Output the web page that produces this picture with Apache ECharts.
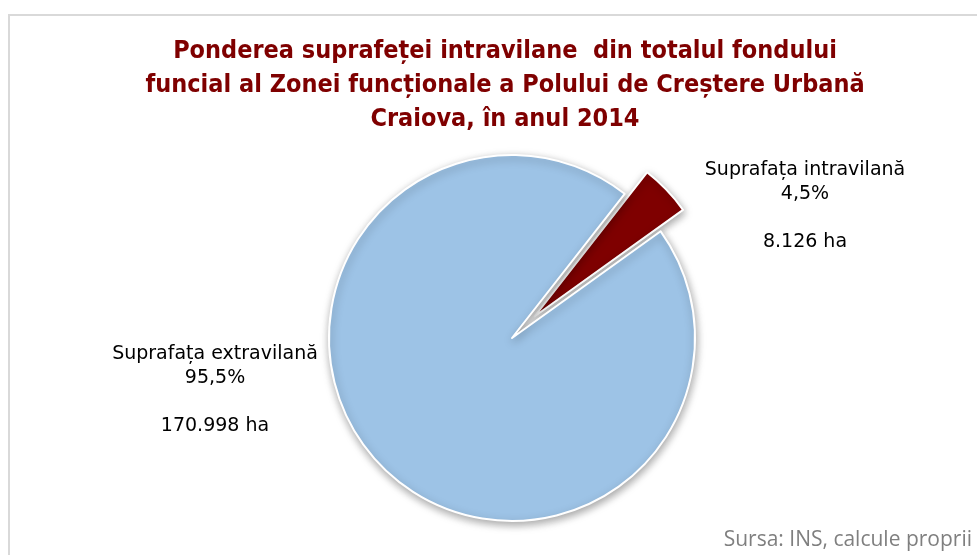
<!DOCTYPE html>
<html>
<head>
<meta charset="utf-8">
<script src="https://cdn.jsdelivr.net/npm/echarts@6/dist/echarts.min.js"></script>
<style>
  html, body { margin: 0; padding: 0; background: #fff; }
  #chart { width: 977px; height: 555px; }
</style>
</head>
<body>
<div id="chart"></div>
<script>
// date
var categories = ['Suprafața intravilană', 'Suprafața extravilană']
var hectares = [8126, 170998]
var sliceColors = ['#7f0000', '#9dc3e6']

var titleText = 'Ponderea suprafeței intravilane  din totalul fondului\nfuncial al Zonei funcționale a Polului de Creștere Urbană\nCraiova, în anul 2014'
var sourceText = 'Sursa: INS, calcule proprii'

// 8126 -> "8.126"
function formatHa(v) {
  return String(v).replace(/\B(?=(\d{3})+(?!\d))/g, '.')
}

var pieCenter = [512, 338]
var pieRadius = 183
var pieStart = 52

var chart = echarts.init(document.getElementById('chart'))

chart.setOption({
  animation: false,
  title: {
    text: titleText,
    left: 500,
    top: 29,
    textAlign: 'center',
    textStyle: {
      fontFamily: 'DejaVu Sans Condensed',
      fontWeight: 'bold',
      fontSize: 25,
      lineHeight: 34,
      color: '#7f0000'
    }
  },
  graphic: [
    {
      // rama graficului
      type: 'rect',
      silent: true,
      shape: { x: 9, y: 15, width: 1000, height: 600 },
      style: { fill: 'none', stroke: '#d9d9d9', lineWidth: 2 }
    },
    {
      type: 'text',
      right: 5,
      top: 530,
      style: {
        text: sourceText,
        fill: '#7f7f7f',
        font: '21px "Open Sans"'
      }
    }
  ],
  series: [
    {
      // feliile, cea intravilana scoasa in afara
      type: 'pie',
      center: pieCenter,
      radius: pieRadius,
      startAngle: pieStart,
      selectedMode: 'single',
      selectedOffset: 31,
      itemStyle: {
        borderColor: '#fff',
        borderWidth: 2,
        shadowBlur: 8,
        shadowColor: 'rgba(0,0,0,0.35)',
        shadowOffsetX: 1,
        shadowOffsetY: 3
      },
      label: { show: false },
      labelLine: { show: false },
      emphasis: { disabled: true },
      data: categories.map(function (name, i) {
        return {
          name: name,
          value: hectares[i],
          selected: i === 0,
          itemStyle: { color: sliceColors[i] }
        }
      })
    },
    {
      // aceleasi date, doar pentru etichete
      type: 'pie',
      silent: true,
      center: pieCenter,
      radius: pieRadius,
      startAngle: pieStart,
      selectedMode: false,
      avoidLabelOverlap: false,
      itemStyle: { color: 'rgba(0,0,0,0)' },
      label: {
        show: true,
        position: 'outside',
        color: '#000',
        fontFamily: 'DejaVu Sans',
        fontSize: 19,
        lineHeight: 24,
        align: 'center',
        formatter: function (p) {
          var pct = p.percent.toFixed(1).replace('.', ',')
          return p.name + '\n' + pct + '%\n\n' + formatHa(p.value) + ' ha'
        }
      },
      labelLine: { show: false },
      labelLayout: function (params) {
        if (params.dataIndex === 0) {
          return { x: 805, y: 206, align: 'center', verticalAlign: 'middle' }
        }
        return { x: 215, y: 390, align: 'center', verticalAlign: 'middle' }
      },
      emphasis: { disabled: true },
      data: categories.map(function (name, i) {
        return { name: name, value: hectares[i] }
      })
    }
  ]
})
</script>
</body>
</html>
